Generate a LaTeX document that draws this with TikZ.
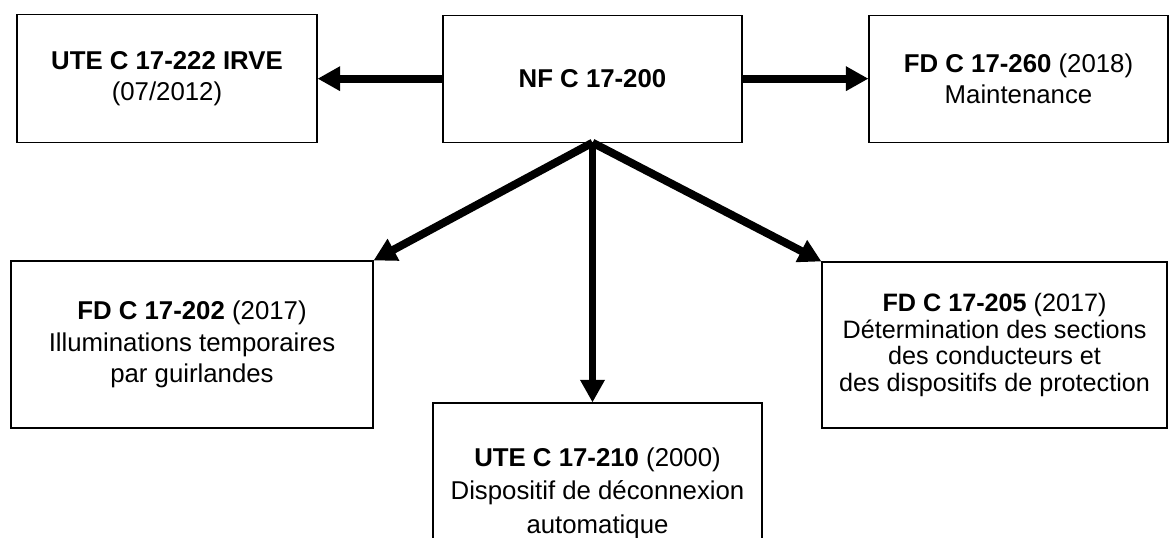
\documentclass[tikz,border=0pt]{standalone}
\usepackage{fontspec}
\setmainfont{Liberation Sans}
\usetikzlibrary{arrows.meta}

\tikzset{
  normbox/.style={draw=black, line width=0.9pt, align=center, inner sep=0pt,
    font=\fontsize{22}{27}\selectfont},
  bigarrow/.style={line width=6.8pt, -{Triangle[length=0.68cm,width=0.7cm]}}
}

\begin{document}
\begin{tikzpicture}

            \useasboundingbox (0,0) rectangle (35.1,-16.14);
            \clip (0,0) rectangle (35.1,-16.14);

            % top row
            \node[normbox, minimum width=8.97cm, minimum height=3.81cm] (nf) at (17.775,-2.36) {\textbf{NF C 17-200}};
            \node[normbox, minimum width=9.0cm, minimum height=3.84cm] (ute222) at (5.01,-2.36) {\textbf{UTE C 17-222 IRVE}\\(07/2012)};
            \node[normbox, minimum width=8.97cm, minimum height=3.81cm] (fd260) at (30.555,-2.36) {\textbf{FD C 17-260} (2018)\\Maintenance};

            % bottom row
            \node[normbox, minimum width=10.86cm, minimum height=5.01cm] (fd202) at (5.76,-10.335) {\textbf{FD C 17-202} (2017)\\Illuminations temporaires\\par guirlandes};
            \node[normbox, minimum width=10.35cm, minimum height=4.98cm, font=\fontsize{21.5}{22.5}\selectfont] (fd205) at (29.835,-10.35) {\textbf{FD C 17-205} (2017)\\D\'etermination des sections\\des conducteurs et\\des dispositifs de protection};
            \node[normbox, minimum width=9.87cm, minimum height=5.4cm, font=\fontsize{22}{28.5}\selectfont] (ute210) at (17.925,-14.79) {\textbf{UTE C 17-210} (2000)\\Dispositif de d\'econnexion\\automatique};

            \draw[bigarrow] (nf.west) -- (ute222.east);
            \draw[bigarrow] (nf.east) -- (fd260.west);
            \draw[bigarrow] (nf.south) -- (fd202.north east);
            \draw[bigarrow] (nf.south) -- (fd205.north west);
            \draw[bigarrow] (nf.south) -- (nf.south |- ute210.north);

        \end{tikzpicture}
\end{document}
